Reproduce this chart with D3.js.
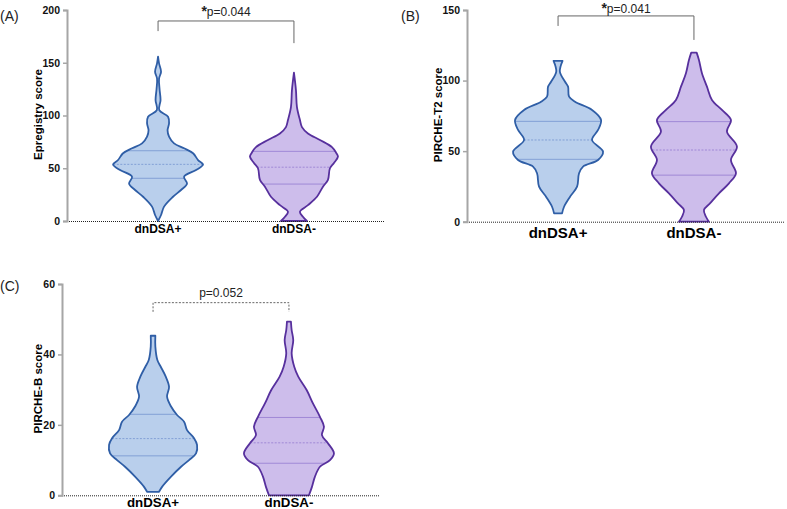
<!DOCTYPE html>
<html>
<head>
<meta charset="utf-8">
<script src="https://cdn.jsdelivr.net/npm/d3@7"></script>
<style>
  body { margin: 0; background: #fff; }
  svg { font-family: "Liberation Sans", Arial, Helvetica, sans-serif; }
</style>
</head>
<body>
<svg id="chart" width="787" height="509"></svg>
<script>
// groups and labels
const categories = ['dnDSA+', 'dnDSA-'];
const panelLabels = ['(A)', '(B)', '(C)'];
const yLabels = ['Epregistry score', 'PIRCHE-T2 score', 'PIRCHE-B score'];
const yTicksA = [0, 50, 100, 150, 200];
const yTicksB = [0, 50, 100, 150];
const yTicksC = [0, 20, 40, 60];
const pTexts = ['p=0.044', 'p=0.041', 'p=0.052'];
const significant = [true, true, false];

// violin outlines: [score, density]
const densityAPos = [[155.7, 0], [149.4, 1], [141.5, 3], [135, 1], [125, 1.5], [114.7, 2.5], [105, 1.2],
  [98.9, 10], [92.6, 11], [86, 9.5], [80, 11], [73.6, 16], [68.9, 26], [64.2, 35], [57.8, 40], [53.5, 45],
  [48.3, 38], [42, 26], [35.5, 29], [29.4, 23], [23, 15], [13.6, 6], [5.7, 3], [0, 0]];
const densityANeg = [[140.6, 0], [124, 2], [108, 3], [95.7, 6], [89, 8], [83, 14], [76.8, 26], [70, 38],
  [65, 42], [61, 44], [55, 40], [50, 36], [39, 34], [32.5, 29], [23, 23], [15, 14], [8.8, 6], [4, 9], [0, 13]];
const densityBPos = [[114, 4.5], [106.3, 1.8], [99.2, 7], [95.7, 10], [88.6, 11], [85, 17], [79.2, 34],
  [72.1, 43], [65, 40], [57.9, 34], [49.6, 45], [43.7, 40], [39, 25], [34.3, 21], [24.8, 19], [17.7, 12],
  [10.6, 6], [5.9, 4]];
const densityBNeg = [[119.8, 2.7], [114.6, 5], [105.2, 8], [95.7, 13], [86.3, 18], [79.2, 28], [72.1, 37],
  [63.8, 33], [53.2, 43], [43.7, 37], [34.3, 42], [27.2, 35], [20.1, 25], [13, 16], [8.3, 10], [3.5, 12], [0, 15]];
const densityCPos = [[45.3, 2.3], [42.2, 2.3], [38.4, 4.3], [36.5, 7.7], [33.7, 12.7], [30.8, 16], [28, 14],
  [25.2, 18], [22.8, 24], [20.9, 31], [18.5, 34], [16.2, 41], [14.3, 44], [11.9, 43], [10, 36], [8.1, 28],
  [5.3, 18], [2.4, 9], [1, 6]];
const densityCNeg = [[49.3, 2], [46.9, 2.7], [44.1, 4.3], [40.3, 2.7], [36.5, 5.3], [33.7, 9.3], [29.9, 17.7],
  [26.1, 24], [22.3, 31], [19.5, 35], [17.1, 33], [14.8, 39], [11.9, 45], [10, 41], [8.1, 31], [5.3, 26],
  [2.4, 23], [0, 20]];

// quartiles [Q1, median, Q3]
const quartAPos = [40.5, 53.7, 66.6];
const quartANeg = [35, 51, 66];
const quartBPos = [44.2, 57.9, 71.1];
const quartBNeg = [33, 50.8, 70.9];
const quartCPos = [11.2, 16.1, 23];
const quartCNeg = [9.1, 14.9, 22.1];

const svg = d3.select('#chart');

const colors = [
  { fill: '#b9cfec', stroke: '#2f5ea6', q: '#7d9bd2' },
  { fill: '#cdbdeb', stroke: '#57309d', q: '#9b82d4' }
];

const panels = [
  { left: 67, right: 385, top: 10, bottom: 221, ticks: yTicksA, densities: [densityAPos, densityANeg],
    quarts: [quartAPos, quartANeg], br: [189.6, 180, 168.6], labelX: 42, tagX: 0, tagY: 21, pY: 15.5,
    fs: 12, catY: 233 },
  { left: 467, right: 785, top: 10, bottom: 221.7, ticks: yTicksB, densities: [densityBPos, densityBNeg],
    quarts: [quartBPos, quartBNeg], br: [145.8, 138.7, 128.8], labelX: 442, tagX: 401, tagY: 21, pY: 12.5,
    fs: 15, catY: 238 },
  { left: 62, right: 380, top: 284, bottom: 495.3, ticks: yTicksC, densities: [densityCPos, densityCNeg],
    quarts: [quartCPos, quartCNeg], br: [54.7, 52.1, 52.1], labelX: 42, tagX: 0, tagY: 291, pY: 297,
    fs: 13.3, catY: 507 }
];

// half width at a score, from the outline points
function halfAt(dens, v) {
  for (let i = 0; i < dens.length - 1; i++) {
    const a = dens[i], b = dens[i + 1];
    if (v <= a[0] && v >= b[0]) {
      const t = (a[0] - v) / (a[0] - b[0]);
      return a[1] + t * (b[1] - a[1]);
    }
  }
  return 0;
}

panels.forEach((p, i) => {
  const y = d3.scaleLinear()
    .domain([0, d3.max(p.ticks)])
    .range([p.bottom, p.top]);
  const x = d3.scalePoint()
    .domain(categories)
    .range([p.left, p.right])
    .padding(0.67);
  const w = d3.scaleLinear().domain([0, 45]).range([0, 45]);

  const g = svg.append('g');

  // violins
  categories.forEach((c, j) => {
    const dens = p.densities[j];
    const cx = x(c);
    const area = d3.area()
      .curve(d3.curveCatmullRom.alpha(0.5))
      .y(d => y(d[0]))
      .x0(d => cx - w(d[1]))
      .x1(d => cx + w(d[1]));

    g.append('path')
      .datum(dens)
      .attr('d', area)
      .attr('fill', colors[j].fill)
      .attr('stroke', 'none');

    p.quarts[j].forEach((q, k) => {
      const hw = w(halfAt(dens, q));
      g.append('line')
        .attr('x1', cx - hw).attr('x2', cx + hw)
        .attr('y1', y(q)).attr('y2', y(q))
        .attr('stroke', colors[j].q)
        .attr('stroke-width', 0.9)
        .attr('stroke-dasharray', k === 1 ? '2,1.5' : null);
    });

    g.append('path')
      .datum(dens)
      .attr('d', area)
      .attr('fill', 'none')
      .attr('stroke', colors[j].stroke)
      .attr('stroke-width', 1.8)
      .attr('stroke-linejoin', 'round');
  });

  // x axis (dotted baseline)
  g.append('line')
    .attr('x1', p.left).attr('x2', p.right)
    .attr('y1', p.bottom + 0.5).attr('y2', p.bottom + 0.5)
    .attr('stroke', '#222')
    .attr('stroke-width', 1)
    .attr('stroke-dasharray', '1,1');

  categories.forEach(c => {
    g.append('text')
      .attr('x', x(c))
      .attr('y', p.catY)
      .attr('text-anchor', 'middle')
      .attr('font-weight', 'bold')
      .attr('font-size', p.fs)
      .text(c);
  });

  // y axis
  const yAxis = d3.axisLeft(y).tickValues(p.ticks).tickSize(4).tickPadding(3);
  const ga = g.append('g')
    .attr('transform', `translate(${p.left},0)`)
    .call(yAxis);
  ga.select('.domain').attr('stroke', '#a6a6a6').attr('stroke-width', 2);
  ga.selectAll('.tick line').attr('stroke', '#a6a6a6').attr('stroke-width', 1.5);
  ga.selectAll('.tick text')
    .attr('font-size', 10.5)
    .attr('font-weight', 'bold')
    .attr('fill', '#111')
    .attr('font-family', '"Liberation Sans", Arial, sans-serif');

  g.append('text')
    .attr('transform', `translate(${p.labelX},${(p.top + p.bottom) / 2 - 1}) rotate(-90)`)
    .attr('text-anchor', 'middle')
    .attr('font-weight', 'bold')
    .attr('font-size', 11.5)
    .text(yLabels[i]);

  g.append('text')
    .attr('x', p.tagX)
    .attr('y', p.tagY)
    .attr('font-size', 14)
    .attr('fill', '#222')
    .text(panelLabels[i]);

  // significance bracket
  const bx0 = x(categories[0]), bx1 = x(categories[1]);
  g.append('path')
    .attr('d', `M${bx0},${y(p.br[1])}V${y(p.br[0])}H${bx1}V${y(p.br[2])}`)
    .attr('fill', 'none')
    .attr('stroke', '#666')
    .attr('stroke-width', 1)
    .attr('stroke-dasharray', significant[i] ? null : '2,1.5');

  const pt = g.append('text')
    .attr('x', (bx0 + bx1) / 2)
    .attr('y', p.pY)
    .attr('text-anchor', 'middle')
    .attr('font-size', 12)
    .attr('fill', '#222');
  if (significant[i]) {
    pt.append('tspan').attr('font-weight', 'bold').attr('font-size', 14).text('*');
  }
  pt.append('tspan').text(pTexts[i]);
});
</script>
</body>
</html>
